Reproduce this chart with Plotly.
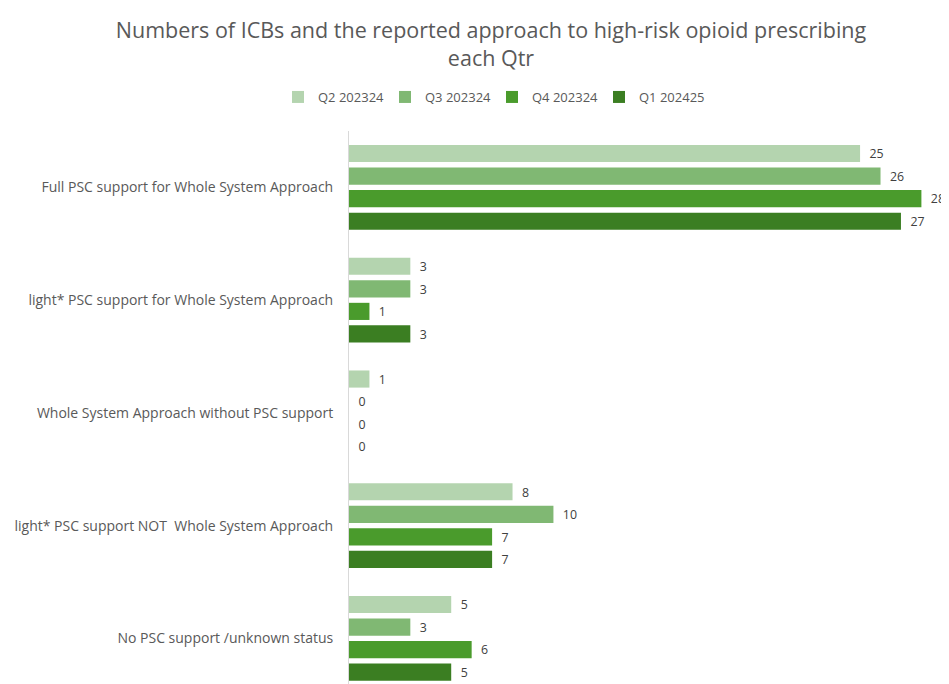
import plotly.graph_objects as go

categories = [
    "Full PSC support for Whole System Approach",
    "light* PSC support for Whole System Approach",
    "Whole System Approach without PSC support",
    "light* PSC support NOT  Whole System Approach",
    "No PSC support /unknown status",
]
series_names = ["Q2 202324", "Q3 202324", "Q4 202324", "Q1 202425"]
q2_202324 = [25, 3, 1, 8, 5]
q3_202324 = [26, 3, 0, 10, 3]
q4_202324 = [28, 1, 0, 7, 6]
q1_202425 = [27, 3, 0, 7, 5]
series_values = [q2_202324, q3_202324, q4_202324, q1_202425]
colors = ["#B4D4AF", "#80B873", "#4A9B2C", "#3B7E22"]

FONT = "Open Sans, sans-serif"
# page has an 8px body margin; figure coordinates are page - 8
W, H = 941, 676
fig = go.Figure()
for name, vals, col in zip(series_names, series_values, colors):
    fig.add_trace(go.Bar(
        y=categories, x=vals, name=name, orientation="h",
        marker=dict(color=col, line=dict(width=0)),
        texttemplate="\u00a0\u00a0%{x}", textposition="outside",
        textfont=dict(size=13, color="#404040", family=FONT),
        cliponaxis=False,
    ))

fig.update_layout(
    width=W, height=H,
    margin=dict(l=341, r=0, t=123, b=0),
    paper_bgcolor="white", plot_bgcolor="white",
    barmode="group", bargap=0.2, bargroupgap=0.24,
    font=dict(family=FONT, color="#595959"),
    title=dict(
        text="Numbers of ICBs and the reported approach to high-risk opioid prescribing<br>each Qtr",
        x=483/W, xanchor="center", xref="container",
        y=1 - 30/H, yanchor="middle", yref="container",
        font=dict(size=21.5, color="#595959", family=FONT),
    ),
    legend=dict(
        orientation="h", x=484/W, xanchor="center", xref="container",
        y=1 - 89/H, yanchor="middle", yref="container",
        font=dict(size=13, color="#595959", family=FONT),
        itemwidth=30, traceorder="normal",
        entrywidth=62, entrywidthmode="pixels",
    ),
    xaxis=dict(range=[0, 29.35], visible=False, showgrid=False, zeroline=False),
    yaxis=dict(
        range=[4.405, -0.5], showgrid=False, zeroline=False,
        showline=True, linecolor="#D9D9D9", linewidth=1,
        ticks="", ticklabelstandoff=12,
        tickfont=dict(size=14, color="#595959", family=FONT),
    ),
)
fig.write_html("out.html")
